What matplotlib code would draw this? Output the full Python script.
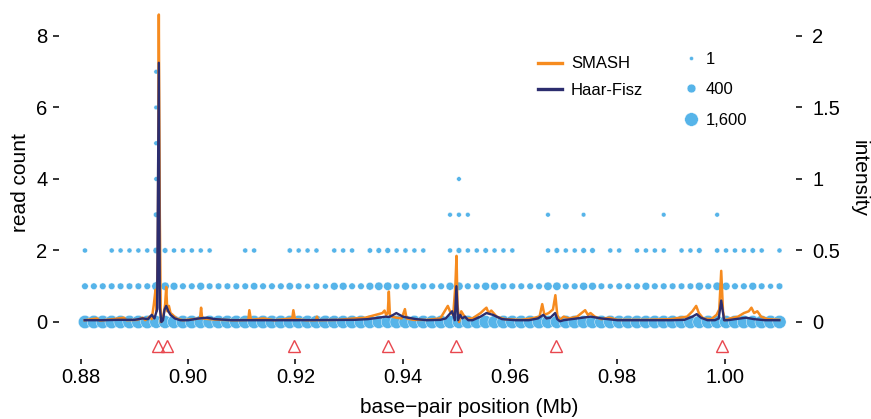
import numpy as np
import matplotlib
matplotlib.use("Agg")
import matplotlib.pyplot as plt
from matplotlib.lines import Line2D

plt.rcParams["font.family"] = ["Liberation Sans", "DejaVu Sans"]

DOT = "#56B4E9"
SMASH_C = "#F68B1F"
HF_C = "#2C2D6E"
TRI_C = "#E8474E"

# genomic bins (Mb): 79 regular bins
bin_start = 0.88075
bin_width = 0.00166
n_bins = 79

# number of base pairs with read count 0 / 1 / 2 in each bin
count_row0 = [
    1500, 1510, 1510, 1505, 1505, 1505, 1505, 1505, 1350, 1420,
    1460, 1505, 1505, 1460, 1505, 1515, 1515, 1515, 1500, 1480,
    1515, 1515, 1515, 1470, 1500, 1530, 1500, 1535, 1460, 1460,
    1500, 1515, 1450, 1410, 1400, 1500, 1460, 1500, 1500, 1515,
    1515, 1440, 1400, 1490, 1500, 1440, 1460, 1500, 1500, 1515,
    1515, 1515, 1420, 1410, 1500, 1500, 1430, 1450, 1515, 1530,
    1500, 1515, 1500, 1460, 1500, 1500, 1515, 1500, 1500, 1430,
    1515, 1420, 1450, 1500, 1500, 1450, 1500, 1535, 1500,
]
count_row1 = [
    120, 120, 120, 120, 120, 120, 120, 120, 400, 330,
    250, 120, 120, 250, 120, 120, 120, 120, 120, 200,
    120, 120, 120, 200, 120, 60, 120, 60, 250, 250,
    120, 120, 250, 330, 330, 120, 250, 120, 120, 120,
    120, 280, 330, 120, 120, 280, 250, 120, 120, 120,
    120, 120, 330, 330, 120, 120, 280, 250, 120, 60,
    120, 120, 120, 250, 120, 120, 120, 120, 120, 280,
    120, 330, 280, 120, 120, 250, 120, 60, 120,
]
count_row2 = [
    20, 0, 0, 20, 20, 20, 20, 20, 100, 45,
    20, 20, 20, 20, 20, 0, 0, 0, 20, 20,
    0, 0, 0, 25, 20, 20, 20, 0, 20, 20,
    20, 0, 30, 45, 50, 20, 25, 20, 20, 0,
    0, 20, 50, 20, 20, 35, 20, 20, 20, 0,
    0, 0, 20, 45, 20, 20, 45, 45, 0, 20,
    20, 0, 20, 20, 20, 20, 0, 20, 20, 45,
    0, 25, 20, 20, 20, 35, 20, 0, 20,
]
# sparse higher read counts: bin index, read count, number of bp
high_bin = [8, 8, 8, 8, 8, 41, 42, 43, 42, 52, 56, 65, 71]
high_level = [3, 4, 5, 6, 7, 3, 3, 3, 4, 3, 3, 3, 3]
high_count = [40, 8, 10, 8, 8, 10, 14, 10, 8, 10, 8, 8, 10]

# SMASH intensity estimate (in read-count units, intensity x 4)
smash_pts = [
    (0.8807, 0.05), (0.8830, 0.10), (0.8835, 0.04), (0.8860, 0.08), (0.8880, 0.12),
    (0.8885, 0.05), (0.8905, 0.06), (0.8915, 0.12), (0.8920, 0.05), (0.8928, 0.15),
    (0.8932, 0.08), (0.8936, 0.50), (0.8939, 0.90), (0.8941, 0.30), (0.89435, 2.0),
    (0.89452, 8.6), (0.8947, 3.0), (0.8949, 0.0), (0.8952, 0.05), (0.8955, 0.30),
    (0.8957, 0.50), (0.8959, 0.98), (0.8961, 0.30), (0.8964, 0.45), (0.8967, 0.25),
    (0.8971, 0.20), (0.8978, 0.10), (0.8990, 0.05), (0.9010, 0.08), (0.9022, 0.10),
    (0.9024, 0.40), (0.9026, 0.10), (0.9040, 0.08), (0.9060, 0.06), (0.9090, 0.05),
    (0.9112, 0.06), (0.9114, 0.33), (0.9117, 0.06), (0.9140, 0.10), (0.9160, 0.05),
    (0.9180, 0.08), (0.9194, 0.10), (0.9196, 0.33), (0.9199, 0.08), (0.9220, 0.05),
    (0.9238, 0.05), (0.9240, 0.15), (0.9242, 0.05), (0.9280, 0.06), (0.9310, 0.10),
    (0.9330, 0.12), (0.9345, 0.18), (0.9355, 0.22), (0.9362, 0.25), (0.9366, 0.32),
    (0.9369, 0.20), (0.9372, 0.25), (0.9374, 0.85), (0.9376, 0.20), (0.9380, 0.15),
    (0.9388, 0.12), (0.9398, 0.10), (0.9404, 0.36), (0.9407, 0.10), (0.9420, 0.06),
    (0.9445, 0.06), (0.9470, 0.10), (0.9478, 0.30), (0.9484, 0.45), (0.9488, 0.30),
    (0.9494, 0.20), (0.9498, 1.00), (0.95002, 1.85), (0.9502, 0.50), (0.9505, 0.0),
    (0.9509, 0.30), (0.9513, 0.20), (0.9518, 0.10), (0.9530, 0.10), (0.9545, 0.25),
    (0.9552, 0.35), (0.9556, 0.40), (0.9560, 0.25), (0.9565, 0.32), (0.9575, 0.15),
    (0.9590, 0.08), (0.9620, 0.06), (0.9640, 0.10), (0.9655, 0.15), (0.9660, 0.50),
    (0.9664, 0.20), (0.9672, 0.25), (0.9680, 0.35), (0.96845, 0.75), (0.9688, 0.20),
    (0.9692, 0.05), (0.9700, 0.15), (0.9710, 0.10), (0.9725, 0.15), (0.9740, 0.33),
    (0.9745, 0.20), (0.9750, 0.25), (0.9758, 0.15), (0.9770, 0.08), (0.9785, 0.12),
    (0.9800, 0.06), (0.9850, 0.06), (0.9900, 0.08), (0.9930, 0.15), (0.9940, 0.30),
    (0.9947, 0.45), (0.9952, 0.25), (0.9960, 0.10), (0.9975, 0.08), (0.9985, 0.20),
    (0.9990, 0.35), (0.99937, 1.43), (0.9997, 0.30), (1.0000, 0.05), (1.0010, 0.10),
    (1.0025, 0.15), (1.0036, 0.25), (1.0045, 0.30), (1.0050, 0.40), (1.0055, 0.25),
    (1.0061, 0.30), (1.0068, 0.15), (1.0080, 0.08), (1.0102, 0.06),
]

# Haar-Fisz intensity estimate (read-count units)
hf_pts = [
    (0.8807, 0.05), (0.8840, 0.05), (0.8870, 0.06), (0.8900, 0.06), (0.8915, 0.10),
    (0.8925, 0.08), (0.8932, 0.20), (0.8937, 0.10), (0.8942, 0.35), (0.89452, 7.25),
    (0.8947, 0.40), (0.8950, 0.0), (0.8953, 0.05), (0.8956, 0.35), (0.8959, 0.45),
    (0.8963, 0.30), (0.8967, 0.20), (0.8975, 0.10), (0.8985, 0.05), (0.9000, 0.05),
    (0.9020, 0.10), (0.9035, 0.12), (0.9050, 0.08), (0.9080, 0.05), (0.9200, 0.05),
    (0.9310, 0.06), (0.9335, 0.08), (0.9355, 0.12), (0.9368, 0.15), (0.9374, 0.14),
    (0.9380, 0.18), (0.9388, 0.25), (0.9400, 0.15), (0.9410, 0.12), (0.9425, 0.08),
    (0.9445, 0.05), (0.9470, 0.06), (0.9480, 0.10), (0.9486, 0.20), (0.9492, 0.30),
    (0.9497, 0.05), (0.9500, 1.00), (0.9503, 0.05), (0.9507, 0.20), (0.9511, 0.10),
    (0.9516, 0.15), (0.9522, 0.05), (0.9530, 0.05), (0.9545, 0.15), (0.9556, 0.25),
    (0.9568, 0.20), (0.9585, 0.08), (0.9610, 0.05), (0.9635, 0.05), (0.9652, 0.10),
    (0.9662, 0.20), (0.9668, 0.10), (0.9675, 0.12), (0.9684, 0.25), (0.9688, 0.08),
    (0.9693, 0.02), (0.9700, 0.05), (0.9715, 0.08), (0.9735, 0.12), (0.9750, 0.15),
    (0.9770, 0.10), (0.9800, 0.05), (0.9900, 0.05), (0.9925, 0.06), (0.9940, 0.15),
    (0.9948, 0.22), (0.9956, 0.12), (0.9968, 0.05), (0.9982, 0.05), (0.9989, 0.10),
    (0.99937, 0.60), (0.9999, 0.05), (1.0006, 0.05), (1.0020, 0.08), (1.0040, 0.12),
    (1.0055, 0.08), (1.0075, 0.05), (1.0102, 0.05),
]

# peak calls (Mb)
peak_mb = [0.8944, 0.8960, 0.9197, 0.9373, 0.9500, 0.9685, 0.9995]
peak_y = -0.67

size_breaks = [1, 400, 1600]
size_labels = ["1", "400", "1,600"]
left_ticks = [0, 2, 4, 6, 8]
right_ticks = [0, 0.5, 1, 1.5, 2]
right_labels = ["0", "0.5", "1", "1.5", "2"]
x_ticks = [0.88, 0.90, 0.92, 0.94, 0.96, 0.98, 1.00]


def dot_size(v):
    v = np.asarray(v, dtype=float)
    d_px = 4.0 + 9.6 * np.sqrt(np.clip(v - 1, 0, None) / 1599)
    return (d_px * 0.72) ** 2


W, H = 871, 419
fig = plt.figure(figsize=(W / 100, H / 100), dpi=100)
ax = fig.add_axes([59 / W, 1 - 359 / H, (796 - 59) / W, (359 - 3.8) / H])

bin_mb = bin_start + bin_width * np.arange(n_bins)
xs, ys, cs = [], [], []
for level, row in enumerate([count_row0, count_row1, count_row2]):
    for k, c in enumerate(row):
        if c > 0:
            xs.append(bin_mb[k]); ys.append(level); cs.append(c)
for k, lv, c in zip(high_bin, high_level, high_count):
    xs.append(bin_mb[k]); ys.append(lv); cs.append(c)

ax.scatter(xs, ys, s=dot_size(cs), c=DOT, edgecolors="white", linewidths=0.3, zorder=2)

sx, sy = zip(*smash_pts)
ax.plot(sx, sy, color=SMASH_C, lw=1.8, zorder=3)
hx, hy = zip(*hf_pts)
ax.plot(hx, hy, color=HF_C, lw=1.7, zorder=4)

ax.plot(peak_mb, [peak_y] * len(peak_mb), ls="none", marker="^", ms=8.5,
        mfc="none", mec=TRI_C, mew=1.0, zorder=5)

ax.set_xlim(0.87591, 1.01331)
ax.set_ylim(-1.035, 8.9)
ax.set_xticks(x_ticks)
ax.set_xticklabels([f"{t:.2f}" for t in x_ticks])
ax.set_yticks(left_ticks)
for s in ax.spines.values():
    s.set_visible(False)
ax.tick_params(axis="x", length=3.6, width=1.1, labelsize=14.5, pad=3.2)
ax.tick_params(axis="y", length=4.2, width=1.1, labelsize=14.5, pad=4.2)

ax2 = ax.twinx()
ax2.set_ylim(-1.035 / 4, 8.9 / 4)
ax2.set_yticks(right_ticks)
ax2.set_yticklabels(right_labels)
for s in ax2.spines.values():
    s.set_visible(False)
ax2.tick_params(axis="y", length=4.2, width=1.1, labelsize=14.5, pad=7.5)

fig.text(469 / W, 1 - 413 / H, "base\u2212pair position (Mb)", fontsize=15,
         ha="center", va="baseline")
fig.text(21 / W, 1 - 183 / H, "read count", fontsize=15, rotation=90,
         ha="center", va="center")
fig.text(859 / W, 1 - 178 / H, "intensity", fontsize=15, rotation=270,
         ha="center", va="center")

line_handles = [Line2D([], [], color=SMASH_C, lw=2.4), Line2D([], [], color=HF_C, lw=2.4)]
leg1 = ax.legend(line_handles, ["SMASH", "Haar-Fisz"], loc="upper left",
                 bbox_to_anchor=(538 / W, 1 - 56.5 / H), bbox_transform=fig.transFigure,
                 frameon=False, fontsize=12, handlelength=1.44, handletextpad=0.54,
                 labelspacing=0.68, borderpad=0, borderaxespad=0)
ax.add_artist(leg1)
size_handles = [Line2D([], [], ls="none", marker="o", color=DOT, mec="white", mew=0.3,
                       markersize=np.sqrt(dot_size(v))) for v in size_breaks]
ax.legend(size_handles, size_labels, loc="upper left",
          bbox_to_anchor=(682.4 / W, 1 - 52 / H), bbox_transform=fig.transFigure,
          frameon=False, fontsize=12, handlelength=1.0, handletextpad=0.41,
          labelspacing=0.92, borderpad=0, borderaxespad=0)

fig.savefig("out.png", dpi=100)
